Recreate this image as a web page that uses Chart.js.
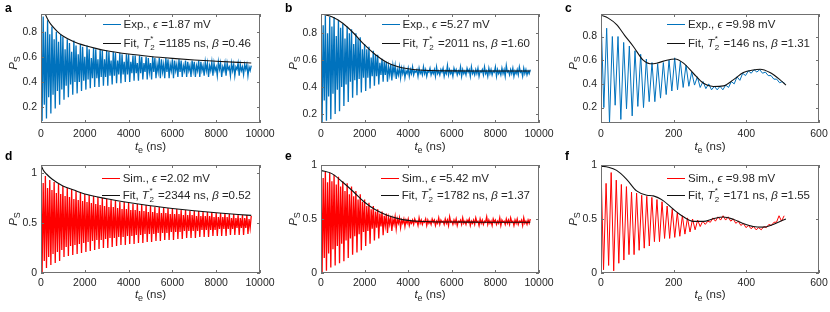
<!DOCTYPE html>
<html><head><meta charset="utf-8">
<script src="https://cdn.jsdelivr.net/npm/chart.js@4.4.1/dist/chart.umd.min.js"></script>
<style>
html,body{margin:0;padding:0;background:#fff}
body{width:830px;height:312px;position:relative;overflow:hidden}
canvas{position:absolute}
.t{position:absolute;font-family:"Liberation Sans",Arial,sans-serif;color:#262626;white-space:nowrap}
.pl{font-weight:bold;font-size:12px;color:#000;line-height:14px}
.xt{font-size:11.5px;text-align:center;width:120px;line-height:14px}
.yt{font-size:11.5px;text-align:center;width:60px;height:14px;line-height:14px;transform:rotate(-90deg)}
sub{font-size:0.78em;vertical-align:-0.3em;line-height:0}
.lg{font-size:11.5px;line-height:13px}
.row{display:flex;align-items:center;height:13px}
.smp{width:18px;height:0;border-top:1.2px solid;margin-right:3px;flex:none}
.ss{display:inline-block;position:relative;width:6px;height:10px;vertical-align:baseline}
.ss .sp{position:absolute;left:0.5px;top:-2px;font-size:8px;line-height:8px}
.ss .sb{position:absolute;left:0.5px;top:7px;font-size:8px;line-height:8px}
</style></head>
<body>
<script>
// ---------- tick labels ----------
const xTicksLong = [0, 2000, 4000, 6000, 8000, 10000];
const xTicksShort = [0, 200, 400, 600];
const yTicksTop = [0.2, 0.4, 0.6, 0.8];
const yTicksBottom = [0, 0.5, 1];

// ---------- panel a: experiment, eps = 1.87 mV (maxima / minima, 50 ns apart) ----------
const expA_hi = [0.93,0.92,0.80,0.89,0.78,0.84,0.74,0.80,0.72,0.78,
 0.76,0.66,0.74,0.71,0.64,0.73,0.69,0.62,0.70,0.68,
 0.60,0.69,0.66,0.59,0.67,0.66,0.58,0.66,0.65,0.58,
 0.65,0.64,0.57,0.64,0.63,0.57,0.63,0.62,0.56,0.62,
 0.62,0.56,0.61,0.61,0.55,0.61,0.60,0.55,0.60,0.59,
 0.55,0.60,0.59,0.54,0.59,0.58,0.54,0.59,0.58,0.54,
 0.58,0.57,0.54,0.58,0.57,0.53,0.57,0.56,0.53,0.57,
 0.56,0.53,0.57,0.56,0.53,0.56,0.55,0.53,0.56,0.55,
 0.52,0.56,0.55,0.52,0.55,0.55,0.52,0.55,0.54,0.52,
 0.55,0.54,0.52,0.54,0.54,0.52,0.53];
const expA_lo = [0.09,0.22,0.11,0.28,0.15,0.30,0.19,0.33,0.22,0.34,
 0.26,0.37,0.28,0.38,0.30,0.40,0.31,0.40,0.33,0.41,
 0.34,0.42,0.35,0.43,0.36,0.43,0.36,0.44,0.37,0.44,
 0.37,0.45,0.38,0.45,0.39,0.46,0.39,0.46,0.40,0.46,
 0.40,0.47,0.41,0.47,0.41,0.47,0.42,0.48,0.42,0.48,
 0.42,0.48,0.43,0.48,0.43,0.48,0.43,0.48,0.43,0.49,
 0.43,0.49,0.44,0.48,0.44,0.49,0.44,0.49,0.44,0.49,
 0.44,0.49,0.44,0.49,0.45,0.49,0.44,0.49,0.45,0.49,
 0.45,0.50,0.44,0.49,0.45,0.50,0.45,0.49,0.45,0.50,
 0.45,0.49,0.46,0.50,0.45,0.49];
const fitA_t = [0,50,100,150,200,300,400,500,750,1000,1500,2000,2500,3000,4000,5000,6000,7000,8000,9000,9600];
const fitA_y = [1.18,1.04,0.99,0.96,0.937,0.90,0.87,0.847,0.80,0.765,0.72,0.69,0.667,0.648,0.622,0.603,0.588,0.575,0.565,0.556,0.551];

// ---------- panel b: experiment, eps = 5.27 mV ----------
const expB_hi = [0.94,0.86,0.93,0.80,0.92,0.85,0.92,0.78,0.90,0.84,
 0.87,0.76,0.85,0.80,0.83,0.72,0.80,0.76,0.77,0.68,
 0.72,0.68,0.70,0.62,0.67,0.64,0.64,0.58,0.61,0.59,
 0.59,0.55,0.57,0.56,0.56,0.53,0.55,0.54,0.54,0.52,
 0.54,0.53,0.55,0.52,0.53,0.54,0.52,0.55,0.53,0.52,
 0.54,0.52,0.53,0.55,0.52,0.53,0.54,0.52,0.56,0.53,
 0.52,0.54,0.53,0.52,0.55,0.53,0.52,0.54,0.53,0.55,
 0.52,0.53,0.54,0.52,0.53,0.55,0.52,0.54,0.53,0.52,
 0.55,0.53,0.52,0.54,0.53,0.56,0.52,0.53,0.54,0.52,
 0.53,0.55,0.52,0.54,0.53,0.52,0.53];
const expB_lo = [0.13,0.30,0.15,0.33,0.16,0.35,0.20,0.38,0.22,0.40,
 0.26,0.42,0.29,0.44,0.32,0.45,0.34,0.46,0.36,0.47,
 0.37,0.47,0.39,0.48,0.41,0.48,0.42,0.49,0.44,0.49,
 0.44,0.49,0.45,0.50,0.46,0.49,0.47,0.50,0.47,0.50,
 0.48,0.50,0.49,0.51,0.48,0.50,0.49,0.50,0.48,0.51,
 0.49,0.50,0.48,0.50,0.49,0.51,0.48,0.50,0.49,0.50,
 0.48,0.51,0.49,0.50,0.48,0.50,0.49,0.51,0.48,0.50,
 0.49,0.50,0.48,0.51,0.49,0.50,0.48,0.50,0.49,0.51,
 0.48,0.50,0.49,0.50,0.48,0.51,0.49,0.50,0.48,0.50,
 0.49,0.51,0.48,0.50,0.49,0.50];
const fitB_t = [0,500,1000,1500,2000,2500,3000,3500,4000,4500,5000,6000,7000,8000,9000,9600];
const fitB_y = [0.943,0.922,0.874,0.80,0.713,0.64,0.585,0.553,0.536,0.527,0.523,0.52,0.519,0.519,0.519,0.519];

// ---------- panel c: experiment, eps = 9.98 mV (maxima / minima, 7.8 ns apart) ----------
const expC_hi = [0.98,0.87,0.80,0.80,0.75,0.72,0.68,0.65,0.61,0.58,0.57,0.58,0.60,0.62,0.59,0.56,0.50,
 0.46,0.42,0.40,0.38,0.38,0.39,0.42,0.46,0.49,0.51,0.52,0.52,0.50,0.47,0.44,0.42];
const expC_lo = [0.20,0.07,0.22,0.10,0.19,0.13,0.21,0.20,0.25,0.25,0.28,0.31,0.34,0.35,0.37,0.38,0.39,
 0.37,0.36,0.35,0.35,0.35,0.37,0.40,0.43,0.47,0.49,0.50,0.49,0.47,0.44,0.41,0.40];
const fitC_t = [0,20,43,65,89,116,135,153,181,204,227,254,282,309,337,364,392,419,438,465,493,509];
const fitC_y = [0.98,0.955,0.90,0.81,0.716,0.60,0.57,0.575,0.60,0.61,0.575,0.49,0.405,0.378,0.383,0.434,0.496,0.518,0.524,0.496,0.434,0.39];

// ---------- panel d: simulation, eps = 2.02 mV ----------
const simD_hi = [1.05,0.90,0.97,0.85,0.93,0.83,0.91,0.80,0.89,0.79,
 0.87,0.77,0.85,0.76,0.84,0.74,0.82,0.73,0.81,0.72,
 0.79,0.71,0.78,0.70,0.77,0.69,0.76,0.68,0.75,0.67,
 0.74,0.66,0.73,0.66,0.72,0.65,0.71,0.64,0.71,0.64,
 0.70,0.63,0.69,0.63,0.69,0.62,0.68,0.62,0.68,0.61,
 0.67,0.61,0.66,0.60,0.66,0.60,0.65,0.60,0.65,0.59,
 0.64,0.59,0.64,0.59,0.63,0.58,0.63,0.58,0.62,0.58,
 0.62,0.57,0.62,0.57,0.61,0.57,0.61,0.57,0.61,0.56,
 0.60,0.56,0.60,0.56,0.60,0.56,0.59,0.55,0.59,0.55,
 0.58,0.55,0.58,0.55,0.58,0.54,0.57];
const simD_lo = [0.00,0.12,0.05,0.16,0.08,0.19,0.10,0.21,0.12,0.23,
 0.16,0.26,0.17,0.27,0.18,0.28,0.19,0.29,0.20,0.30,
 0.21,0.31,0.22,0.32,0.23,0.33,0.24,0.33,0.25,0.34,
 0.25,0.35,0.26,0.35,0.27,0.36,0.28,0.36,0.28,0.37,
 0.29,0.37,0.29,0.38,0.30,0.38,0.30,0.39,0.31,0.39,
 0.31,0.39,0.32,0.40,0.32,0.40,0.33,0.40,0.33,0.41,
 0.33,0.41,0.34,0.41,0.34,0.42,0.35,0.42,0.35,0.42,
 0.35,0.42,0.36,0.43,0.36,0.43,0.36,0.43,0.37,0.43,
 0.37,0.44,0.37,0.44,0.37,0.44,0.38,0.44,0.38,0.45,
 0.38,0.45,0.38,0.45,0.39,0.45];
const fitD_t = [0,100,250,500,1000,1500,2000,3000,4000,5000,6000,7000,8000,9000,9600];
const fitD_y = [1.08,1.03,0.99,0.94,0.87,0.83,0.79,0.743,0.705,0.672,0.645,0.622,0.602,0.585,0.576];

// ---------- panel e: simulation, eps = 5.42 mV ----------
const simE_hi = [0.97,0.88,0.94,0.84,0.93,0.85,0.91,0.82,0.89,0.80,
 0.85,0.76,0.83,0.73,0.80,0.71,0.76,0.68,0.73,0.66,
 0.68,0.62,0.65,0.59,0.62,0.57,0.59,0.55,0.57,0.53,
 0.55,0.51,0.53,0.50,0.52,0.50,0.51,0.49,0.50,0.49,
 0.50,0.48,0.49,0.50,0.48,0.51,0.49,0.48,0.50,0.49,
 0.48,0.50,0.49,0.48,0.51,0.49,0.48,0.50,0.49,0.52,
 0.48,0.49,0.50,0.48,0.49,0.51,0.48,0.49,0.50,0.48,
 0.49,0.51,0.48,0.50,0.49,0.48,0.52,0.49,0.48,0.50,
 0.49,0.48,0.51,0.49,0.48,0.50,0.49,0.51,0.48,0.49,
 0.50,0.48,0.49,0.51,0.48,0.49,0.50];
const simE_lo = [0.00,0.14,0.02,0.18,0.05,0.22,0.07,0.25,0.09,0.27,
 0.11,0.30,0.14,0.32,0.17,0.34,0.19,0.36,0.21,0.38,
 0.25,0.39,0.27,0.41,0.30,0.42,0.32,0.43,0.35,0.44,
 0.37,0.45,0.39,0.45,0.41,0.46,0.42,0.46,0.43,0.46,
 0.44,0.46,0.45,0.47,0.44,0.46,0.45,0.47,0.44,0.46,
 0.45,0.47,0.44,0.46,0.45,0.47,0.45,0.46,0.44,0.47,
 0.45,0.46,0.44,0.47,0.45,0.46,0.45,0.47,0.44,0.46,
 0.45,0.47,0.44,0.46,0.45,0.47,0.45,0.46,0.44,0.47,
 0.45,0.46,0.44,0.47,0.45,0.46,0.45,0.47,0.44,0.46,
 0.45,0.47,0.44,0.46,0.45,0.46];
const fitE_t = [0,500,1000,1500,2000,2500,3000,3500,4000,4500,5000,6000,7000,8000,9000,9600];
const fitE_y = [0.95,0.92,0.84,0.75,0.655,0.585,0.538,0.506,0.487,0.479,0.475,0.472,0.471,0.47,0.47,0.47];

// ---------- panel f: simulation, eps = 9.98 mV (maxima / minima, 7 ns apart) ----------
const simF_hi = [0.99,0.83,0.93,0.86,0.82,0.80,0.75,0.74,0.72,0.71,0.70,0.68,0.66,0.62,0.59,0.56,0.53,0.51,0.50,
 0.49,0.48,0.48,0.51,0.52,0.53,0.52,0.50,0.48,0.46,0.44,0.43,0.42,0.43,0.45,0.47,0.53,0.53];
const simF_lo = [0.03,0.07,0.02,0.09,0.12,0.17,0.17,0.21,0.23,0.25,0.29,0.29,0.32,0.32,0.33,0.34,0.36,0.38,
 0.40,0.43,0.45,0.47,0.48,0.49,0.49,0.48,0.46,0.44,0.42,0.41,0.40,0.40,0.42,0.44,0.47,0.48];
const fitF_t = [0,20,43,70,98,126,144,172,199,227,254,282,309,337,364,392,419,447,474,502,509];
const fitF_y = [0.99,0.98,0.95,0.87,0.76,0.72,0.714,0.668,0.59,0.52,0.478,0.478,0.503,0.519,0.497,0.457,0.43,0.425,0.45,0.49,0.50];

// sampling intervals between successive maxima / minima (ns)
const stepDense = 50, stepC = 7.8, stepF = 7;

// ---------- helpers ----------
function zigzag(hi, lo, dt) {
  const pts = [];
  for (let i = 0; i < hi.length; i++) {
    pts.push({x: 2 * i * dt, y: hi[i]});
    if (i < lo.length) pts.push({x: (2 * i + 1) * dt, y: lo[i]});
  }
  return pts;
}
function pairs(ts, ys) { return ts.map((t, i) => ({x: t, y: ys[i]})); }

const BLUE = '#0072BD', RED = '#FF0000';
const SS = '<i>T</i><span class="ss"><span class="sp">*</span><span class="sb">2</span></span>';
const panels = [
  {tag:'a', L:41,  T:14,  R:260, B:123, ymin:0.075, ymax:0.94, yt:yTicksTop, xmax:10000, xt:xTicksLong, dense:true,
   data:zigzag(expA_hi, expA_lo, stepDense), fit:pairs(fitA_t, fitA_y), col:BLUE,
   l1:'Exp., <i>ϵ</i> =1.87 mV', l2:'Fit, ' + SS + ' =1185 ns, <i>β</i> =0.46'},
  {tag:'b', L:321, T:14,  R:539, B:123, ymin:0.133, ymax:0.943, yt:yTicksTop, xmax:10000, xt:xTicksLong, dense:true,
   data:zigzag(expB_hi, expB_lo, stepDense), fit:pairs(fitB_t, fitB_y), col:BLUE,
   l1:'Exp., <i>ϵ</i> =5.27 mV', l2:'Fit, ' + SS + ' =2011 ns, <i>β</i> =1.60'},
  {tag:'c', L:601, T:14,  R:819, B:123, ymin:0.07, ymax:0.99, yt:yTicksTop, xmax:600, xt:xTicksShort, dense:false,
   data:zigzag(expC_hi, expC_lo, stepC), fit:pairs(fitC_t, fitC_y), col:BLUE,
   l1:'Exp., <i>ϵ</i> =9.98 mV', l2:'Fit, ' + SS + ' =146 ns, <i>β</i> =1.31'},
  {tag:'d', L:41,  T:165, R:260, B:273, ymin:0, ymax:1.08, yt:yTicksBottom, xmax:10000, xt:xTicksLong, dense:true,
   data:zigzag(simD_hi, simD_lo, stepDense), fit:pairs(fitD_t, fitD_y), col:RED,
   l1:'Sim., <i>ϵ</i> =2.02 mV', l2:'Fit, ' + SS + ' =2344 ns, <i>β</i> =0.52'},
  {tag:'e', L:321, T:165, R:539, B:273, ymin:0, ymax:1.0, yt:yTicksBottom, xmax:10000, xt:xTicksLong, dense:true,
   data:zigzag(simE_hi, simE_lo, stepDense), fit:pairs(fitE_t, fitE_y), col:RED,
   l1:'Sim., <i>ϵ</i> =5.42 mV', l2:'Fit, ' + SS + ' =1782 ns, <i>β</i> =1.37'},
  {tag:'f', L:601, T:165, R:819, B:273, ymin:0, ymax:1.0, yt:yTicksBottom, xmax:600, xt:xTicksShort, dense:false,
   data:zigzag(simF_hi, simF_lo, stepF), fit:pairs(fitF_t, fitF_y), col:RED,
   l1:'Sim., <i>ϵ</i> =9.98 mV', l2:'Fit, ' + SS + ' =171 ns, <i>β</i> =1.55'}
];

const boxPlugin = {
  id: 'box',
  afterDatasetsDraw(chart) {
    const {ctx, chartArea: a, scales} = chart;
    const x = scales.x, y = scales.y, tl = 3;
    ctx.save();
    ctx.strokeStyle = '#707070';
    ctx.lineWidth = 1;
    ctx.strokeRect(a.left + 0.5, a.top + 0.5, a.right - a.left - 1, a.bottom - a.top - 1);
    ctx.beginPath();
    x.ticks.forEach(t => {
      const px = Math.round(x.getPixelForValue(t.value)) + 0.5;
      ctx.moveTo(px, a.bottom); ctx.lineTo(px, a.bottom - tl);
      ctx.moveTo(px, a.top); ctx.lineTo(px, a.top + tl);
    });
    y.ticks.forEach(t => {
      const py = Math.round(y.getPixelForValue(t.value)) + 0.5;
      ctx.moveTo(a.left, py); ctx.lineTo(a.left + tl, py);
      ctx.moveTo(a.right, py); ctx.lineTo(a.right - tl, py);
    });
    ctx.stroke();
    ctx.restore();
  }
};

const FONT = '"Liberation Sans", Arial, sans-serif';
panels.forEach(p => {
  const padL = 41, padT = 14, padR = 24, axH = 30;
  const cv = document.createElement('canvas');
  const W = (p.R - p.L) + padL + padR, H = (p.B - p.T) + padT + axH;
  cv.width = W; cv.height = H;
  cv.style.left = (p.L - padL) + 'px'; cv.style.top = (p.T - padT) + 'px';
  cv.style.width = W + 'px'; cv.style.height = H + 'px';
  document.body.appendChild(cv);
  const row2 = p.T > 100;
  new Chart(cv, {
    type: 'line',
    data: { datasets: [
      { data: p.fit, borderColor: '#111', borderWidth: 1.1, pointRadius: 0, cubicInterpolationMode: 'monotone', clip: 0, order: 0 },
      { data: p.data, borderColor: p.col, borderWidth: p.dense ? 1.3 : 1, pointRadius: 0, tension: 0, clip: 0, order: 1 }
    ]},
    options: {
      responsive: false, animation: false, events: [], devicePixelRatio: 1,
      layout: { padding: { left: 0, top: padT, right: padR, bottom: 0 } },
      plugins: { legend: { display: false }, tooltip: { enabled: false } },
      scales: {
        x: { type: 'linear', min: 0, max: p.xmax,
             afterFit: s => { s.height = axH; },
             afterBuildTicks: s => { s.ticks = p.xt.map(v => ({value: v})); },
             grid: { display: false, drawTicks: false }, border: { display: false },
             ticks: { padding: row2 ? 3.5 : 5, color: '#262626', font: { family: FONT, size: 10.5 }, maxRotation: 0, autoSkip: false, callback: v => String(v) } },
        y: { type: 'linear', min: p.ymin, max: p.ymax,
             afterFit: s => { s.width = padL; },
             afterBuildTicks: s => { s.ticks = p.yt.map(v => ({value: v})); },
             grid: { display: false, drawTicks: false }, border: { display: false },
             ticks: { padding: 4, color: '#262626', font: { family: FONT, size: 10.5 }, autoSkip: false, callback: v => String(v) } }
      }
    },
    plugins: [boxPlugin]
  });

  // panel letter
  const pl = document.createElement('div');
  pl.className = 't pl'; pl.textContent = p.tag;
  pl.style.left = (p.L - 36) + 'px'; pl.style.top = (p.T - (row2 ? 16 : 13)) + 'px';
  document.body.appendChild(pl);
  // x title
  const xt = document.createElement('div');
  xt.className = 't xt'; xt.innerHTML = '<i>t</i><sub>e</sub> (ns)';
  xt.style.left = ((p.L + p.R) / 2 - 60) + 'px'; xt.style.top = (row2 ? 287 : 139) + 'px';
  document.body.appendChild(xt);
  // y title
  const yt = document.createElement('div');
  yt.className = 't yt'; yt.innerHTML = '<i>P</i><sub>S</sub>';
  const cy = row2 ? 219 : 63;
  yt.style.left = (p.L - 28 - 30) + 'px'; yt.style.top = (cy - 7) + 'px';
  document.body.appendChild(yt);
  // legend
  const lg = document.createElement('div');
  lg.className = 't lg';
  const c1 = row2 ? p.T + 13.7 : p.T + 10.5, c2 = row2 ? p.T + 30.3 : p.T + 29;
  lg.style.right = (830 - (p.R - 9)) + 'px'; lg.style.top = (c1 - 6.5) + 'px';
  lg.innerHTML = '<div class="row"><span class="smp" style="border-color:' + p.col + '"></span><span>' + p.l1 + '</span></div>' +
    '<div class="row" style="margin-top:' + (c2 - c1 - 13) + 'px"><span class="smp" style="border-color:#111"></span><span>' + p.l2 + '</span></div>';
  document.body.appendChild(lg);
});
</script>
</body></html>
